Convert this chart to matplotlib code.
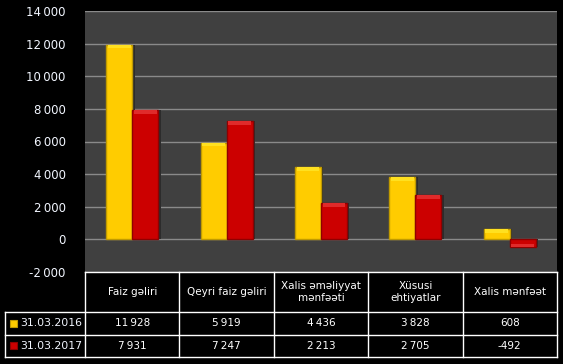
import matplotlib
matplotlib.use("Agg")
import matplotlib.pyplot as plt
import numpy as np

categories = ["Faiz gəliri", "Qeyri faiz gəliri", "Xalis əməliyyat\nmənfəəti", "Xüsusi\nehtiyatlar", "Xalis mənfəət"]
series_names = ["31.03.2016", "31.03.2017"]
values_2016 = [11928, 5919, 4436, 3828, 608]
values_2017 = [7931, 7247, 2213, 2705, -492]
yticks = [-2000, 0, 2000, 4000, 6000, 8000, 10000, 12000, 14000]

colors = ["#FFCC00", "#CC0000"]
edge_colors = ["#C09A00", "#900000"]
top_colors = ["#FFE020", "#E02A2A"]

def fmt(v):
    return f"{v:,}".replace(",", "\u2009")

W, H = 563, 364
fig = plt.figure(figsize=(W/100, H/100), dpi=100)
fig.patch.set_facecolor("black")

ax = fig.add_axes([85/W, 1-272/H, (557-85)/W, (272-11)/H])
ax.set_facecolor("#404040")
ax.set_ylim(-2000, 14000)
n = len(categories)
ax.set_xlim(-0.5, n-0.5)
ax.set_yticks(yticks)
ax.set_yticklabels([fmt(v) for v in yticks], color="#F2F6FF", fontsize=8.5)
ax.tick_params(axis="y", length=0, pad=14)
ax.set_xticks([])
for s in ax.spines.values():
    s.set_visible(False)
ax.grid(axis="y", color="#8A8A8A", linewidth=1)
ax.set_axisbelow(True)

x = np.arange(n)
bw = 0.275
for i, vals in enumerate([values_2016, values_2017]):
    pos = x + (i - 0.5) * bw
    ax.bar(pos + 0.025, vals, bw, bottom=0, color="#2c2c2c", zorder=2, linewidth=0)
    ax.bar(pos, vals, bw, color=colors[i], edgecolor=edge_colors[i], linewidth=1, zorder=3)
    hl = [np.sign(v) * min(abs(v) * 0.5, 220) for v in vals]
    bottoms = [v - h for v, h in zip(vals, hl)]
    ax.bar(pos, hl, bw * 0.88, bottom=bottoms, color=top_colors[i], linewidth=0, zorder=4)

# table
tax = fig.add_axes([0, 0, 1, 1])
tax.set_xlim(0, W)
tax.set_ylim(H, 0)
tax.axis("off")
col_left = 85
col_w = (557 - 85) / n
y_head_top, y_head_bot, y_r1, y_r2 = 272, 312, 335, 357
lc = "white"
lw = 1
tax.plot([col_left, 557], [y_head_top, y_head_top], color=lc, lw=lw)
for yy in [y_head_bot, y_r1, y_r2]:
    tax.plot([5, 557], [yy, yy], color=lc, lw=lw)
for k in range(n + 1):
    xx = col_left + k * col_w
    tax.plot([xx, xx], [y_head_top, y_r2], color=lc, lw=lw)
tax.plot([5, 5], [y_head_bot, y_r2], color=lc, lw=lw)

for k, c in enumerate(categories):
    tax.text(col_left + (k + 0.5) * col_w, (y_head_top + y_head_bot) / 2, c,
             color="white", fontsize=7.5, ha="center", va="center", linespacing=1.15)
rows = [(y_head_bot, y_r1), (y_r1, y_r2)]
for r, vals in enumerate([values_2016, values_2017]):
    yc = (rows[r][0] + rows[r][1]) / 2
    for k, v in enumerate(vals):
        tax.text(col_left + (k + 0.5) * col_w, yc, fmt(v),
                 color="white", fontsize=7.5, ha="center", va="center")
    tax.add_patch(plt.Rectangle((10, yc - 4), 7, 7, facecolor=colors[r], edgecolor=edge_colors[r], lw=0.8))
    tax.text(20, yc, series_names[r], color="#F2F6FF", fontsize=7.8, ha="left", va="center")

fig.savefig("out.png", dpi=100, facecolor="black")
